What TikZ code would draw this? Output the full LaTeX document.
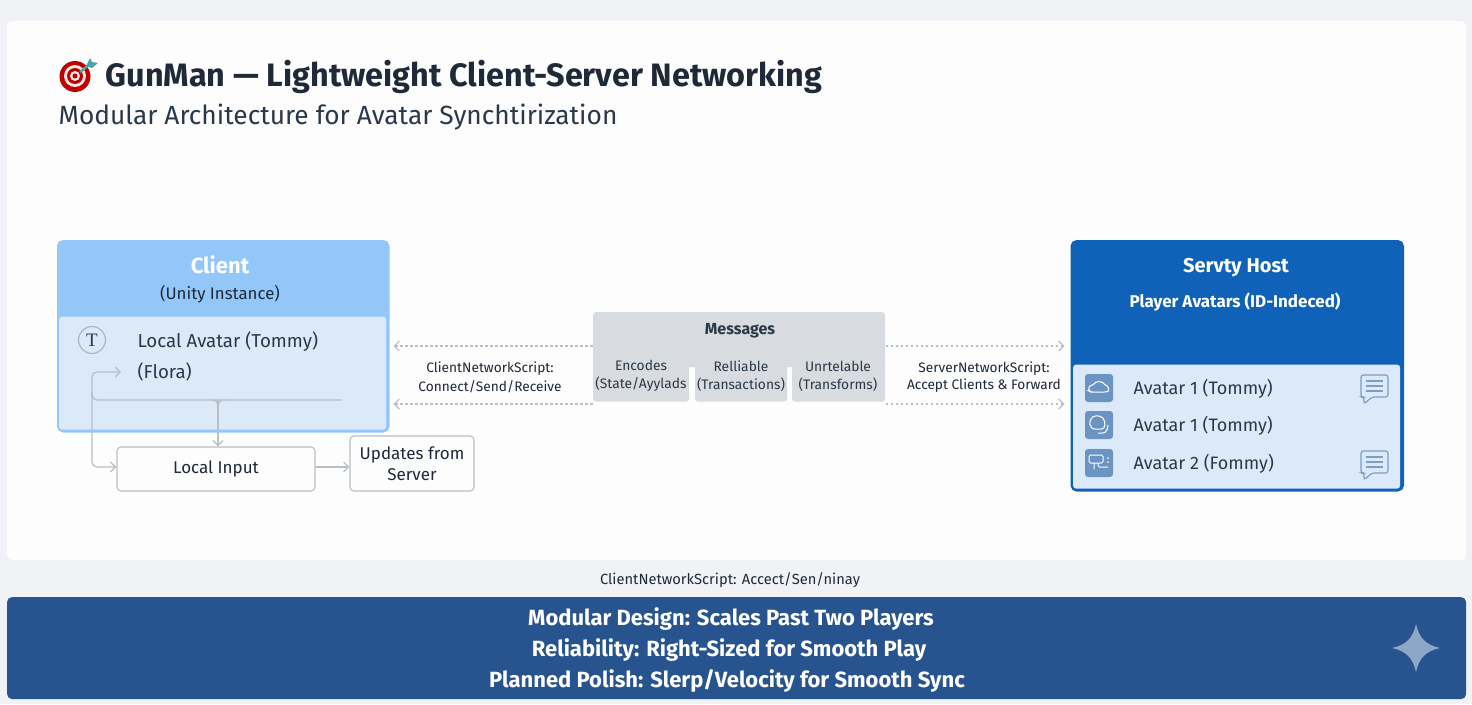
\documentclass[tikz,border=0pt]{standalone}
\usepackage{fontspec}
\setmainfont{Fira Sans}
\newfontfamily\serifT{Liberation Serif}
\usetikzlibrary{arrows.meta, positioning, calc}
\definecolor{cpage}{HTML}{F0F2F6}
\definecolor{cpanel}{HTML}{FDFDFD}
\definecolor{cink}{HTML}{1F2937}
\definecolor{csub}{HTML}{2B3848}
\definecolor{clight}{HTML}{93C7FA}
\definecolor{cpale}{HTML}{DBE9F9}
\definecolor{cdeep}{HTML}{0F62B8}
\definecolor{cbar}{HTML}{27548E}
\definecolor{cmsg}{HTML}{D8DBDF}
\definecolor{cwire}{HTML}{B9BFC6}
\definecolor{cicon}{HTML}{6B94C3}
\definecolor{cbubble}{HTML}{7F9DC2}
\newcommand{\fs}[1]{\fontsize{#1}{#1}\selectfont}
\tikzset{
  every picture/.style={line width=1.2pt},
  box/.style={anchor=north west, inner sep=0pt, rounded corners=5pt},
  plainbox/.style={draw=cwire, fill=cpanel, inner sep=0pt, rounded corners=4pt, align=center, text=cink, font=\fs{17}, line width=1.1pt},
  msgbox/.style={box, fill=cmsg, rounded corners=3pt},
  arrow/.style={-{Straight Barb[length=5pt,width=10pt]}, draw=cwire, line width=1.3pt, rounded corners=5pt},
  link/.style={-{Straight Barb[length=5pt,width=10pt]}, draw=cwire, line width=1.2pt, dash pattern=on 2.5pt off 2.5pt},
  label/.style={font=\fs{13.7}, text=cink, align=center, inner sep=0pt},
  msgtext/.style={font=\fs{13.8}, text=csub, align=center, inner sep=0pt},
  rowtext/.style={anchor=west, font=\fs{18}, text=csub, inner sep=0pt},
  icon/.style={fill=cicon, rounded corners=3pt, minimum size=28pt, inner sep=0pt},
  glyph/.style={draw=white, line width=1pt, rounded corners=1.5pt},
  closing/.style={font=\bfseries\fs{22}, text=white, inner sep=0pt},
}
\begin{document}
\begin{tikzpicture}[x=1pt, y=-1pt]
  \useasboundingbox (0,0) rectangle (1472,704);
  \fill[cpage] (0,0) rectangle (1472,704);
  \node[box, fill=cpanel, minimum width=1459pt, minimum height=539pt] (panel) at (6.5,20.5) {};
  % title
  \node[anchor=west, inner sep=0pt, font=\bfseries\fs{32.4}, text=cink] (title) at (105,77) {GunMan — Lightweight Client-Server Networking};
  \node[anchor=west, inner sep=0pt, font=\fs{26.3}, text=csub] (subtitle) at (58,117) {Modular Architecture for Avatar Synchtirization};
  % target
  \fill[red!75!black] (75,76.5) circle (15.5);
  \fill[white!90!red] (75,76) circle (11);
  \fill[red!75!black] (75,76) circle (8);
  \fill[white!90!red] (75,76) circle (5);
  \fill[red!75!black] (75,76) circle (2.5);
  \draw[draw=teal!70!white, line width=2.5pt] (80,72) -- (90,64);
  \fill[teal!70!white] (86,66) -- (90,58) -- (92,62) -- (98,63) -- (92,68) -- cycle;
  % client
  \node[box, draw=clight, fill=clight, line width=2.5pt, minimum width=330pt, minimum height=190pt] (client) at (57,240) {};
  \node[box, fill=cpale, rounded corners=3pt, minimum width=327pt, minimum height=113pt] (clientin) at (58.5,316) {};
  \node[font=\bfseries\fs{22}, text=white, inner sep=0pt] (clientname) at (220,265) {Client};
  \node[font=\fs{16.8}, text=cink, inner sep=0pt] (clientsub) at (220,294.5) {(Unity Instance)};
  \node[draw=cwire!80!cicon, fill=cpale, circle, minimum size=27pt, inner sep=0pt, font=\serifT\fs{19}, text=csub] (tok) at (92,340) {T};
  \node[rowtext, font=\fs{18.7}] (localav) at (137,341.5) {Local Avatar (Tommy)};
  \node[rowtext, font=\fs{18.7}] (flora) at (137,371.5) {(Flora)};
  % input
  \node[plainbox, minimum width=198pt, minimum height=44pt] (input) at (216,469) {Local Input};
  \node[plainbox, minimum width=124pt, minimum height=55pt] (updates) at (412,463.5) {Updates from\\[4pt]Server};
  \coordinate (hub) at (92,400);
  \coordinate (fade) at (342,400);
  \coordinate (branch) at (218,400);
  \draw[arrow] (hub) -- (92,372) -- (121,372);
  \draw[arrow] (hub) -- (92,467) -- (input.west |- 0,467);
  \draw[draw=cwire, line width=1.3pt, rounded corners=5pt] (92,392) -- (hub) -- (fade);
  \draw[draw=cwire, line width=1.3pt] (211,400) .. controls (216,400) and (218,402) .. (218,407) .. controls (218,402) and (220,400) .. (225,400);
  \draw[arrow] (branch) -- (branch |- input.north);
  \draw[arrow] (input.east |- 0,467) -- (updates.west |- 0,467);
  % messages
  \node[msgbox, minimum width=292pt, minimum height=55pt] (msg) at (592.5,311.5) {};
  \node[msgbox, minimum width=96pt, minimum height=44pt] (enc) at (592.5,357) {};
  \node[msgbox, minimum width=92pt, minimum height=44pt] (rel) at (694.5,357) {};
  \node[msgbox, minimum width=93pt, minimum height=44pt] (unr) at (791.5,357) {};
  \node[font=\bfseries\fs{16}, text=csub, inner sep=0pt] (msgname) at (740,330.5) {Messages};
  \node[msgtext] at (641,376) {Encodes\\[4pt](State/Ayylads};
  \node[msgtext] at (741,376) {Relliable\\[4pt](Transactions)};
  \node[msgtext] at (838,376) {Unrtelable\\[4pt](Transforms)};
  % server
  \node[box, draw=cdeep, fill=cdeep, line width=2.5pt, minimum width=331pt, minimum height=249pt] (server) at (1070.5,240) {};
  \node[box, fill=cpale, rounded corners=3pt, minimum width=327pt, minimum height=124pt] (serverin) at (1072.5,364) {};
  \node[font=\bfseries\fs{20}, text=white, inner sep=0pt] (servername) at (1236,268) {Servty Host};
  \node[font=\bfseries\fs{17}, text=white, inner sep=0pt] (serversub) at (1235,302) {Player Avatars (ID-Indeced)};
  % avatar rows
  \foreach \k/\y/\w in {1/388/Avatar 1 (Tommy), 2/425/Avatar 1 (Tommy), 3/463/Avatar 2 (Fommy)} {
    \node[icon] (ic\k) at (1099,\y) {};
    \node[rowtext] (av\k) at (1133,\y+1) {\w};
  }
  \draw[glyph] (1089,391) .. controls (1088,386) and (1092,385) .. (1094,385) .. controls (1095,381) and (1103,381) .. (1104,385) .. controls (1108,385) and (1110,391) .. (1106,392) -- (1091,392) -- cycle;
  \draw[glyph] (1093,429) .. controls (1087,424) and (1091,415) .. (1098,416) .. controls (1105,417) and (1106,425) .. (1103,429) -- cycle;
  \draw[glyph] (1098,433) -- (1104,433) .. controls (1107,431) and (1108,428) .. (1108,425);
  \draw[glyph] (1089,455) rectangle (1103,463);
  \draw[glyph] (1094,463) -- (1094,469) (1098,463) -- (1098,467) -- (1108,467) (1107,458) -- (1109,458) (1107,462) -- (1109,462);
  % chat bubbles
  \foreach \y in {375,451} {
    \begin{scope}[shift={(1361,\y)}]
      \draw[draw=cbubble, line width=1.2pt, rounded corners=2.5pt] (0,0) -- (27,0) -- (27,22) -- (11,22) -- (3,29) -- (3,22) -- (0,22) -- cycle;
      \draw[draw=cbubble, line width=1.1pt] (5,6) -- (22,6) (5,11) -- (22,11) (5,16) -- (22,16);
    \end{scope}
  }
  % links
  \coordinate (cl1) at (msg.west |- 0,346);
  \coordinate (cl2) at (msg.west |- 0,404);
  \coordinate (sr1) at (msg.east |- 0,346);
  \coordinate (sr2) at (msg.east |- 0,404);
  \draw[link, shorten >=4pt] (cl1) -- (client.east |- 0,346);
  \draw[link, shorten >=4pt] (cl2) -- (client.east |- 0,404);
  \draw[link, shorten >=6pt] (sr1) -- (server.west |- 0,346);
  \draw[link, shorten >=6pt] (sr2) -- (server.west |- 0,404);
  \node[label] (clientlbl) at (490,377) {ClientNetworkScript:\\[4pt]Connect/Send/Receive};
  \node[label] (serverlbl) at (984,377) {ServerNetworkScript:\\[4pt]Accept Clients \& Forward};
  \node[label, font=\fs{14.7}] (caption) at (730,580) {ClientNetworkScript: Accect/Sen/ninay};
  % bottom bar
  \node[box, fill=cbar, minimum width=1459pt, minimum height=102pt] (bar) at (6.5,596.5) {};
  \node[closing] (line1) at (731,619) {Modular Design: Scales Past Two Players};
  \node[closing] (line2) at (729,650) {Reliability: Right-Sized for Smooth Play};
  \node[closing] (line3) at (727,681) {Planned Polish: Slerp/Velocity for Smooth Sync};
  \fill[cbubble!90!white] (1416,624) .. controls (1419,638) and (1426,645) .. (1440,648) .. controls (1426,651) and (1419,658) .. (1416,672) .. controls (1413,658) and (1406,651) .. (1392,648) .. controls (1406,645) and (1413,638) .. (1416,624) -- cycle;
\end{tikzpicture}
\end{document}
